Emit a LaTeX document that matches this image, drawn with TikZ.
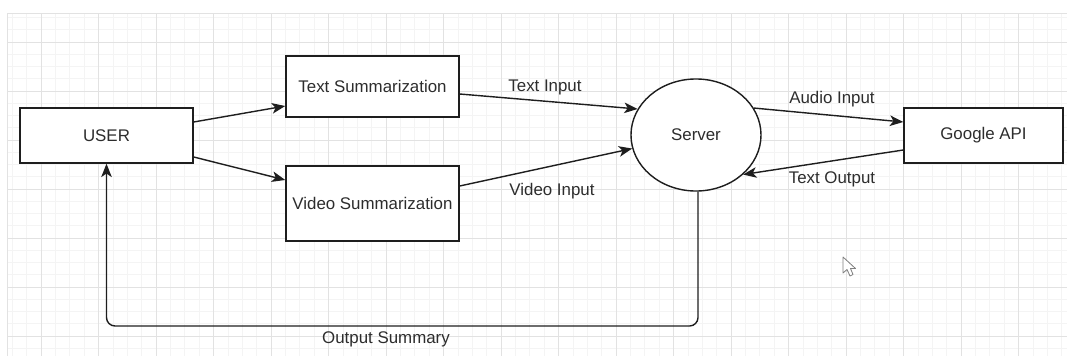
\documentclass[tikz,border=0pt]{standalone}
\usepackage{fontspec}
\setmainfont{Liberation Sans}
\usetikzlibrary{arrows.meta, shapes.geometric}

\definecolor{gridmajor}{RGB}{226,226,226}
\definecolor{gridminor}{RGB}{244,244,244}
\definecolor{ink}{RGB}{30,30,30}
\definecolor{txt}{RGB}{45,45,45}

\tikzset{
    block/.style={draw=ink, line width=1pt, fill=white, inner sep=0pt,
        text=txt, font=\fontsize{12}{14}\selectfont},
    flow/.style={draw=ink, line width=1pt,
        -{Stealth[length=9.5pt, width=7.5pt, inset=2.5pt]}},
    lbl/.style={text=txt, font=\fontsize{12}{14}\selectfont, inner sep=0pt}
}

\begin{document}
\begin{tikzpicture}[x=0.025cm, y=-0.025cm]
    \useasboundingbox (0,0) rectangle (1067,356);

    % background grid
    \foreach \x in { 12.25, 26.625, ..., 1067 }
        \draw[gridminor, line width=0.5pt] (\x, 13) -- (\x, 356);
    \foreach \y in { 17.5, 29.75, ..., 356 }
        \draw[gridminor, line width=0.5pt] (7, \y) -- (1067, \y);
    \foreach \x in { 41, 98.5, ..., 1067 }
        \draw[gridmajor, line width=0.6pt] (\x, 13) -- (\x, 356);
    \foreach \y in { 42, 91, ..., 356 }
        \draw[gridmajor, line width=0.6pt] (7, \y) -- (1067, \y);
    \draw[gridmajor, line width=0.6pt] (7, 356) -- (7, 13) -- (1067, 13);

    % blocks
    \node[block, minimum width=4.325cm, minimum height=1.375cm] (user) at (106.5, 135.5) {USER};
    \node[block, minimum width=4.325cm, minimum height=1.525cm] (tsum) at (372.5, 86.5) {Text Summarization};
    \node[block, minimum width=4.325cm, minimum height=1.875cm] (vsum) at (372.5, 203.5) {Video Summarization};
    \node[block, ellipse, minimum width=3.25cm, minimum height=2.8cm] (server) at (696, 135) {Server};
    \node[block, minimum width=3.975cm, minimum height=1.375cm] (google) at (983.5, 135.5) {Google API};
    \coordinate (loopbase) at (0, 326);

    % connectors
    \draw[flow] ([yshift=0.3375cm]user.east) -- ([yshift=-0.4875cm]tsum.west);
    \draw[flow] ([yshift=-0.5375cm]user.east) -- ([yshift=0.5875cm]vsum.west);
    \draw[flow] ([yshift=-0.1875cm]tsum.east) -- (server.156);
    \draw[flow] ([yshift=0.4375cm]vsum.east) -- (server.192);
    \draw[flow] (server.25) -- ([yshift=0.3375cm]google.west);
    \draw[flow] ([yshift=-0.3625cm]google.west) -- (server.320);
    \draw[flow, rounded corners=6pt] ([xshift=0.05cm]server.south) |- (user.south |- loopbase) -- (user.south);

    % labels
    \node[lbl] (textin) at (545, 87) {Text Input};
    \node[lbl] (videoin) at (552, 191) {Video Input};
    \node[lbl] (audioin) at (832, 99) {Audio Input};
    \node[lbl] (textout) at (832, 179) {Text Output};
    \node[lbl] (outsum) at (386, 339) {Output Summary};

    % pointer
    \draw[gray, line width=0.6pt, fill=white, line join=round]
        (843, 257) -- (843, 273) -- (847, 269.5) -- (850, 276) -- (853, 274.5)
        -- (850.5, 268.5) -- (855.5, 268.5) -- cycle;

\end{tikzpicture}
\end{document}
